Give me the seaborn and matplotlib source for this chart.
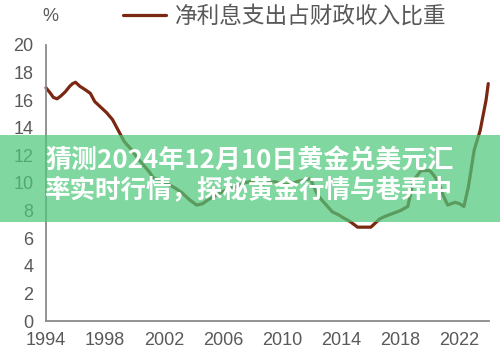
import matplotlib
matplotlib.use("Agg")
import matplotlib.pyplot as plt
from matplotlib.patches import Rectangle
import seaborn as sns
import pandas as pd

# Net interest expenditure as a share of fiscal revenue (%)
years = [1994.0, 1994.3, 1994.5, 1994.75, 1995.0, 1995.3, 1995.6, 1995.8, 1996.0, 1996.3,
         1996.6, 1997.0, 1997.3, 1997.7, 1998.1, 1998.5, 1998.9, 1999.3, 1999.8, 2000.2,
         2000.6, 2001.0, 2001.25, 2001.8, 2002.4, 2002.8, 2003.2, 2003.7, 2004.2, 2004.6,
         2005.0, 2005.5, 2006.0, 2006.5, 2007.0, 2007.4, 2007.8, 2008.2, 2008.6, 2009.0,
         2009.5, 2010.0, 2010.5, 2011.0, 2011.4, 2011.9, 2012.4, 2012.9, 2013.4, 2013.8,
         2014.1, 2014.6, 2015.1, 2015.5, 2016.0, 2016.3, 2016.6, 2017.0, 2017.5, 2018.0,
         2018.5, 2018.9, 2019.4, 2019.7, 2020.0, 2020.3, 2020.6, 2020.9, 2021.2, 2021.7,
         2022.0, 2022.3, 2022.6, 2023.0, 2023.4, 2023.8, 2023.95]
share = [16.9, 16.5, 16.2, 16.1, 16.3, 16.6, 17.0, 17.2, 17.3, 17.0,
         16.8, 16.5, 15.9, 15.5, 15.1, 14.6, 13.8, 13.0, 12.4, 11.8,
         11.3, 10.8, 10.4, 10.1, 9.85, 9.6, 9.3, 8.8, 8.4, 8.5,
         8.8, 9.1, 9.4, 9.6, 9.8, 10.0, 10.1, 10.0, 9.9, 10.0,
         10.1, 9.9, 9.9, 10.1, 10.2, 10.3, 9.1, 8.5, 7.9, 7.7,
         7.5, 7.2, 6.8, 6.8, 6.8, 7.1, 7.4, 7.6, 7.8, 8.0,
         8.3, 10.2, 10.9, 10.9, 10.9, 10.5, 10.0, 9.1, 8.4, 8.6,
         8.5, 8.3, 9.7, 12.4, 13.8, 16.0, 17.2]

x_ticks = [1994, 1998, 2002, 2006, 2010, 2014, 2018, 2022]
y_ticks = [0, 2, 4, 6, 8, 10, 12, 14, 16, 18, 20]

series_name = "净利息支出占财政收入比重"
headline = ["猜测2024年12月10日黄金兑美元汇", "率实时行情，探秘黄金行情与巷弄中"]

sns.set_theme(style="white")
plt.rcParams["font.family"] = ["Liberation Sans", "Noto Sans CJK SC", "DejaVu Sans"]

GRAY = "#595959"
SPINE = "#8a8a8a"
LINE = "#7b2812"

df = pd.DataFrame({"year": years, "share": share})

W, H = 500, 357
fig = plt.figure(figsize=(W / 100, H / 100), dpi=100)
ax = fig.add_axes([0.092, 0.1008, 0.886, 0.7732])

sns.lineplot(data=df, x="year", y="share", ax=ax, color=LINE, linewidth=2.3,
             label=series_name, legend=False, clip_on=False)

ax.set_xlim(1994, 2024)
ax.set_ylim(0, 20)
ax.set_xticks(x_ticks)
ax.set_yticks(y_ticks)
ax.set_xlabel("")
ax.set_ylabel("")

for side in ("top", "right"):
    ax.spines[side].set_visible(False)
for side in ("left", "bottom"):
    ax.spines[side].set_color(SPINE)
    ax.spines[side].set_linewidth(1.3)

ax.tick_params(axis="both", direction="in", length=4, width=1, color=SPINE,
               labelsize=13, labelcolor=GRAY, pad=9)
ax.tick_params(axis="x", pad=8)

# legend above the plot
handles, labels = ax.get_legend_handles_labels()
fig.legend(handles, labels, loc="center left", bbox_to_anchor=(0.245, 0.955),
           frameon=False, handlelength=1.9, handletextpad=0.4,
           borderpad=0, borderaxespad=0, labelcolor=GRAY,
           prop={"family": ["Noto Sans CJK SC"], "size": 16.3})

fig.text(0.1, 0.955, "%", ha="center", va="center", fontsize=13, color=GRAY)

# translucent banner with the headline
fig.add_artist(Rectangle((0, 0.378), 1, 0.244, transform=fig.transFigure,
                         facecolor="#4fc87c", alpha=0.72, edgecolor="none", zorder=5))

left_px, right_px = 45, 453
centers_px = [161, 190]
texts = []
for line, cy in zip(headline, centers_px):
    t = fig.text(left_px / W, 1 - cy / H, line, ha="left", va="center", fontsize=18.4,
                 fontweight="bold", color="white", family=["Noto Sans CJK SC"], zorder=6)
    texts.append(t)

# fit each headline line to the banner width
fig.canvas.draw()
renderer = fig.canvas.get_renderer()
for t in texts:
    bb = t.get_window_extent(renderer)
    t.set_fontsize(t.get_fontsize() * (right_px - left_px) / bb.width)
fig.canvas.draw()
for t in texts:
    bb = t.get_window_extent(renderer)
    x0, y0 = t.get_position()
    t.set_position((x0 + (left_px - bb.x0) / W, y0))

fig.savefig("out.png", dpi=100)
